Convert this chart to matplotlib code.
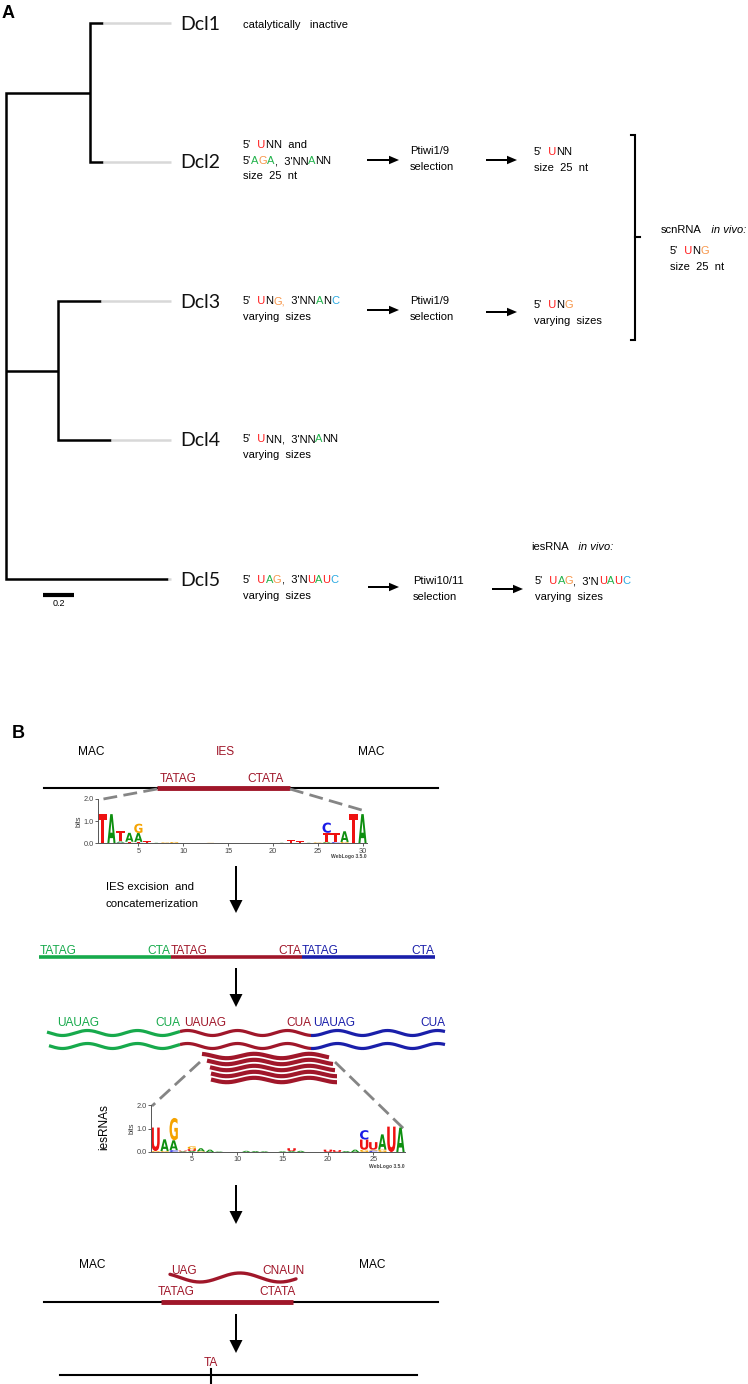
import numpy as np
import matplotlib
matplotlib.use("Agg")
import matplotlib.pyplot as plt
from matplotlib.textpath import TextPath
from matplotlib.font_manager import FontProperties
from matplotlib.patches import PathPatch
from matplotlib.transforms import Affine2D
import matplotlib.patheffects as pe

# ------------------------------------------------------------------ data
leaf_names = ["Dcl1", "Dcl2", "Dcl3", "Dcl4", "Dcl5"]
clade_a_len = 0.54      # root -> (Dcl1, Dcl2)
clade_b_len = 0.335     # root -> (Dcl3, Dcl4)
leaf_lens = [0.085, 0.085, 0.278, 0.342, 1.045]
scale_bar = 0.2

dicer_products = [
    [[("catalytically   inactive", "k")]],
    [[("5'", "k"), ("  U", "U"), ("NN  and", "k")],
     [("5'", "k"), ("A", "A"), ("G", "G"), ("A", "A"), (",  3'NN", "k"), ("A", "A"), ("NN", "k")],
     [("size  25  nt", "k")]],
    [[("5'", "k"), ("  U", "U"), ("N", "k"), ("G,", "G"), ("  3'NN", "k"), ("A", "A"), ("N", "k"), ("C", "C")],
     [("varying  sizes", "k")]],
    [[("5'", "k"), ("  U", "U"), ("NN,  3'NN", "k"), ("A", "A"), ("NN", "k")],
     [("varying  sizes", "k")]],
    [[("5'", "k"), ("  U", "U"), ("A", "A"), ("G", "G"), (",  3'N", "k"), ("U", "U"), ("A", "A"), ("U", "U"), ("C", "C")],
     [("varying  sizes", "k")]],
]
piwi_rows = [1, 2, 4]
piwi_names = ["Ptiwi1/9", "Ptiwi1/9", "Ptiwi10/11"]
piwi_selected = [
    [[("5'", "k"), ("  U", "U"), ("NN", "k")], [("size  25  nt", "k")]],
    [[("5'", "k"), ("  U", "U"), ("N", "k"), ("G", "G")], [("varying  sizes", "k")]],
    [[("5'", "k"), ("  U", "U"), ("A", "A"), ("G", "G"), (",  3'N", "k"), ("U", "U"), ("A", "A"), ("U", "U"), ("C", "C")],
     [("varying  sizes", "k")]],
]
scn_invivo = [[("scnRNA", "k"), ("   in vivo:", "k", "italic")], [], [("5'", "k"), ("  U", "U"), ("N", "k"), ("G", "G")],
              [("size  25  nt", "k")]]
ies_invivo = [("iesRNA", "k"), ("   in vivo:", "k", "italic")]

# sequence logo of IES ends (30 nt)
logo1_letters = ["T", "A", "CAT", "GTA", "CTAG", "AT", "A", "G", "G", "A", "", "", "G", "", "", "", "", "", "", "",
                 "A", "T", "T", "A", "G", "GATC", "CT", "GA", "T", "A"]
logo1_heights = [[1.32], [1.32], [0.04, 0.05, 0.48], [0.03, 0.05, 0.40], [0.03, 0.04, 0.40, 0.42], [0.03, 0.07],
                 [0.03], [0.05], [0.07], [0.02], [], [], [0.03], [], [], [], [], [], [], [],
                 [0.03], [0.15], [0.09], [0.03], [0.05], [0.04, 0.04, 0.40, 0.46], [0.06, 0.42], [0.07, 0.48],
                 [1.32], [1.32]]
# sequence logo of iesRNAs (28 nt)
logo2_letters = ["GU", "GA", "CAG", "AU", "AUG", "GA", "A", "A", "", "", "A", "A", "A", "", "A", "AU", "A", "", "",
                 "U", "U", "A", "A", "GUC", "CGU", "GA", "U", "A"]
logo2_heights = [[0.04, 1.0], [0.04, 0.5], [0.08, 0.42, 0.95], [0.03, 0.03], [0.04, 0.08, 0.12], [0.03, 0.13],
                 [0.1], [0.02], [], [], [0.05], [0.04], [0.03], [], [0.03], [0.04, 0.12], [0.05], [], [],
                 [0.1], [0.08], [0.04], [0.1], [0.1, 0.43, 0.4], [0.06, 0.04, 0.32], [0.1, 0.65], [1.08], [1.04]]

concat_seg_colors = ["green", "red", "blue"]

# ------------------------------------------------------------------ style
W, H = 748, 1384
SANS = ["Liberation Sans", "DejaVu Sans"]
plt.rcParams["font.family"] = SANS
COL = {"k": "black", "U": "#ff1a1a", "G": "#f7964a", "A": "#21b24b", "C": "#29a9e1"}
DR = "#a0172a"
SEG = {"green": "#17aa4c", "red": DR, "blue": "#1a1faa"}
LOGO_COL = {"A": "#0e8f10", "C": "#1a1ae6", "G": "#f5a300", "T": "#ee1111", "U": "#ee1111"}
FP_LOGO = FontProperties(family="DejaVu Sans", weight="bold")
FS = 8.0

fig = plt.figure(figsize=(W / 100, H / 100), dpi=100)
ax = fig.add_axes([0, 0, 1, 1])
ax.set_xlim(0, W)
ax.set_ylim(H, 0)
ax.axis("off")


def rich(x, y, parts, size=FS, va="center"):
    t = None
    for p in parts:
        s, c = p[0], p[1]
        st = p[2] if len(p) > 2 else "normal"
        if t is None:
            t = ax.text(x, y, s, color=COL[c], fontsize=size, va=va, ha="left", fontstyle=st)
        else:
            t = ax.annotate(s, xy=(1, 0), xycoords=t, va="bottom", ha="left", color=COL[c],
                            fontsize=size, fontstyle=st)
    return t


def harrow(x0, x1, y):
    ax.arrow(x0, y, x1 - x0, 0, width=2.0, head_width=8.5, head_length=10, length_includes_head=True,
             fc="k", ec="k", lw=0)


def varrow(x, y0, y1):
    ax.arrow(x, y0, 0, y1 - y0, width=2.0, head_width=13, head_length=13, length_includes_head=True,
             fc="k", ec="k", lw=0)


# ------------------------------------------------------------------ panel A
ax.text(2, 18, "A", fontsize=13, fontweight="bold", va="baseline", ha="left")
PX = 155.0
X0 = 6
LEAF_Y = [23 + 139 * i for i in range(5)]
LABEL_X = 180
parent_len = [clade_a_len, clade_a_len, clade_b_len, clade_b_len, 0.0]
tips = [X0 + (parent_len[i] + leaf_lens[i]) * PX for i in range(5)]
xa = X0 + clade_a_len * PX
xb = X0 + clade_b_len * PX
ya = (LEAF_Y[0] + LEAF_Y[1]) / 2
yb = (LEAF_Y[2] + LEAF_Y[3]) / 2
TW = 1.8
kw = dict(color="k", lw=TW, solid_joinstyle="miter", solid_capstyle="butt")
ax.plot([tips[0], xa, xa, tips[1]], [LEAF_Y[0], LEAF_Y[0], LEAF_Y[1], LEAF_Y[1]], **kw)
ax.plot([tips[2], xb, xb, tips[3]], [LEAF_Y[2], LEAF_Y[2], LEAF_Y[3], LEAF_Y[3]], **kw)
ax.plot([xa, X0, X0, tips[4]], [ya, ya, LEAF_Y[4], LEAF_Y[4]], **kw)
ax.plot([X0, xb], [yb, yb], **kw)
for i in range(5):
    if tips[i] < LABEL_X - 12:
        ax.plot([tips[i], LABEL_X - 9], [LEAF_Y[i]] * 2, color="#d8d8d8", lw=TW, solid_capstyle="butt")
    ax.text(LABEL_X, LEAF_Y[i] + 1, leaf_names[i], fontsize=14, va="center", ha="left",
            family=["Lato", "DejaVu Sans"], color="#111111")
# scale bar
ax.plot([43, 43 + scale_bar * PX], [595, 595], color="k", lw=3, solid_capstyle="butt")
ax.text(43 + scale_bar * PX / 2, 604, "0.2", fontsize=6.5, ha="center", va="center")

DESC_X = 243
desc_y = [[25], [145, 161, 176], [301, 317], [439, 455], [580, 596]]
for parts_lines, ys in zip(dicer_products, desc_y):
    for parts, y in zip(parts_lines, ys):
        rich(DESC_X, y, parts)

arrow1 = {1: (367, 399, 160), 2: (367, 399, 310), 4: (368, 399, 587)}
arrow2 = {1: (486, 517, 160), 2: (486, 517, 312), 4: (492, 523, 589)}
piwi_xy = {1: (410, [151, 167]), 2: (410, [301, 317]), 4: (413, [581, 597])}
sel_xy = {1: (534, [152, 168]), 2: (534, [305, 321]), 4: (535, [581, 597])}
for r, name, sel in zip(piwi_rows, piwi_names, piwi_selected):
    harrow(*arrow1[r])
    harrow(*arrow2[r])
    px_, pys = piwi_xy[r]
    ax.text(px_, pys[0], name, fontsize=FS, va="center")
    ax.text(px_, pys[1], "selection", fontsize=FS, va="center")
    sx, sys_ = sel_xy[r]
    for parts, y in zip(sel, sys_):
        rich(sx, y, parts)

# bracket
ax.plot([631, 635, 635, 631], [135, 135, 340, 340], color="k", lw=1.5, solid_joinstyle="miter")
ax.plot([635, 640], [237, 237], color="k", lw=1.5)
rich(661, 230, scn_invivo[0])
rich(670, 251, scn_invivo[2])
rich(670, 267, scn_invivo[3])
rich(531, 547, ies_invivo)

# ------------------------------------------------------------------ panel B
FB = 8.6
ax.text(12, 738, "B", fontsize=13, fontweight="bold", va="baseline", ha="left")
ax.text(91, 755, "MAC", fontsize=FB, ha="center", va="baseline")
ax.text(225, 755, "IES", fontsize=FB, ha="center", va="baseline", color=DR)
ax.text(371, 755, "MAC", fontsize=FB, ha="center", va="baseline")
ax.text(178, 782, "TATAG", fontsize=FB, ha="center", va="baseline", color=DR)
ax.text(266, 782, "CTATA", fontsize=FB, ha="center", va="baseline", color=DR)
ax.plot([44, 438], [788, 788], color="k", lw=1.5)
ax.plot([157, 290], [788, 788], color=DR, lw=3.5, solid_capstyle="butt")

dash = dict(color="#858585", lw=2.0, dashes=(5, 2.3))
ax.plot([157, 98], [789, 800], **dash)
ax.plot([290, 365], [789, 811], **dash)


def letter(lax, ch, xc, y0, h, w=0.92):
    tp = TextPath((0, 0), ch, size=1, prop=FP_LOGO)
    bb = tp.get_extents()
    tr = Affine2D().translate(-bb.x0, -bb.y0).scale(w / bb.width, h / bb.height).translate(xc - w / 2, y0)
    lax.add_patch(PathPatch(tr.transform_path(tp), fc=LOGO_COL[ch], ec="none", lw=0))


def logo(xl, xr, ytop, ybot, letters, heights):
    n = len(letters)
    lax = fig.add_axes([xl / W, 1 - ybot / H, (xr - xl) / W, (ybot - ytop) / H])
    lax.set_xlim(0.5, n + 0.5)
    lax.set_ylim(0, 2)
    lax.patch.set_alpha(0)
    for i, (ls, hs) in enumerate(zip(letters, heights)):
        y = 0.0
        for ch, h in zip(ls, hs):
            letter(lax, ch, i + 1, y, h)
            y += h
    for s in ["top", "right"]:
        lax.spines[s].set_visible(False)
    for s in ["left", "bottom"]:
        lax.spines[s].set_color("#555555")
        lax.spines[s].set_linewidth(0.7)
    lax.set_yticks([0, 1, 2])
    lax.set_yticklabels(["0.0", "1.0", "2.0"])
    lax.set_xticks(list(range(5, n + 1, 5)))
    lax.tick_params(length=2, width=0.6, labelsize=5.3, pad=1, colors="#444444")
    lax.set_ylabel("bits", fontsize=5.3, labelpad=1, color="#333333")
    lax.text(1.0, -0.30, "WebLogo 3.5.0", transform=lax.transAxes, ha="right", va="center",
             fontsize=3.6, fontweight="bold", color="#444444")
    return lax


logo(98, 367, 799, 843.5, logo1_letters, logo1_heights)

varrow(236, 866, 913)
ax.text(106, 887, "IES excision  and", fontsize=8.2, va="center")
ax.text(106, 904, "concatemerization", fontsize=8.2, va="center")

# concatemer
bounds = [39, 171, 302, 435]
for i, c in enumerate(concat_seg_colors):
    ax.plot([bounds[i], bounds[i + 1]], [957, 957], color=SEG[c], lw=2.6, solid_capstyle="butt")
    ax.text(bounds[i] + (1 if i == 0 else 0), 954, "TATAG", color=SEG[c], fontsize=FB, ha="left", va="baseline")
    ax.text(bounds[i + 1] - 1, 954, "CTA", color=SEG[c], fontsize=FB, ha="right", va="baseline")

varrow(236, 968, 1007)


def wave(x0, x1, yc, amp=2.5, period=50.0, phase=0.0):
    xs = np.linspace(x0, x1, 300)
    return xs, yc + amp * np.sin(2 * np.pi * xs / period + phase)


wb = [47, 180, 311, 445]
txt_l = [57, 184, 313]
for i, c in enumerate(concat_seg_colors):
    ax.text(txt_l[i], 1026, "UAUAG", color=SEG[c], fontsize=FB, ha="left", va="baseline")
    ax.text(wb[i + 1], 1026, "CUA", color=SEG[c], fontsize=FB, ha="right", va="baseline")
    x, y = wave(wb[i], wb[i + 1], 1033)
    ax.plot(x, y, color=SEG[c], lw=2.3, solid_capstyle="butt")
    x, y = wave(max(wb[i], 49), wb[i + 1], 1046)
    ax.plot(x, y, color=SEG[c], lw=2.3, solid_capstyle="butt")

dash2 = dict(color="#858585", lw=2.0, dashes=(5, 2.3))
ax.plot([200, 152], [1062, 1106], **dash2)
ax.plot([335, 404], [1062, 1129], **dash2)

stack_x = [(202, 329), (207, 333), (210, 335), (211, 337), (211, 337)]
stack_y = [1056, 1062, 1068, 1074, 1080]
for (x0, x1), yc in zip(stack_x, stack_y):
    x, y = wave(x0, x1, yc, amp=2.2, period=55, phase=0.8)
    ax.plot(x, y, color=DR, lw=3.0, solid_capstyle="butt",
            path_effects=[pe.Stroke(linewidth=4.2, foreground="white"), pe.Normal()])

logo(151, 405, 1105, 1152, logo2_letters, logo2_heights)
ax.text(104, 1127, "iesRNAs", fontsize=8.5, rotation=90, ha="center", va="center")

varrow(236, 1185, 1224)

# bottom: iesRNA pairing and excision
ax.text(92, 1268, "MAC", fontsize=FB, ha="center", va="baseline")
ax.text(372, 1268, "MAC", fontsize=FB, ha="center", va="baseline")
ax.text(171, 1274, "UAG", fontsize=FB, ha="left", va="baseline", color=DR)
ax.text(305, 1274, "CNAUN", fontsize=FB, ha="right", va="baseline", color=DR)
xs = np.linspace(170, 296, 200)
ax.plot(xs, 1277.5 - 4.5 * np.cos(2 * np.pi * (xs - 240) / 80), color=DR, lw=2.4, solid_capstyle="round")
ax.text(158, 1295, "TATAG", fontsize=FB, ha="left", va="baseline", color=DR)
ax.text(296, 1295, "CTATA", fontsize=FB, ha="right", va="baseline", color=DR)
ax.plot([44, 438], [1302, 1302], color="k", lw=1.5)
ax.plot([161, 293], [1302, 1302], color=DR, lw=3.5, solid_capstyle="butt")

varrow(236, 1314, 1353)
ax.text(211, 1363, "TA", fontsize=FB, ha="center", va="center", color=DR)
ax.plot([60, 417], [1375, 1375], color="k", lw=1.5)
ax.plot([211, 211], [1369, 1384], color="k", lw=1.5)

fig.savefig("out.png", dpi=100)
